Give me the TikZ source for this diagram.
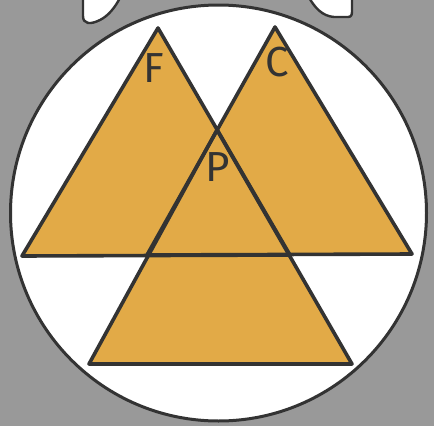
\documentclass[tikz,border=0pt]{standalone}
\usepackage{fontspec}
\setmainfont{Fira Sans}
\usepackage{xcolor}
\usetikzlibrary{calc}

\definecolor{slate}{HTML}{999999}
\definecolor{ink}{HTML}{333333}
\definecolor{ochre}{HTML}{E2AA47}

\begin{document}
\begin{tikzpicture}[x=1pt, y=-1pt, line join=round,
    tri/.style={fill=ochre},
    edge/.style={draw=ink, line width=3.6pt},
    letter/.style={text=ink, font=\fontsize{42}{44}\selectfont}]
            \useasboundingbox (0,0) rectangle (434,426);
            \fill[slate] (0,0) rectangle (434,426);
            \begin{scope}
                \clip (0,0) rectangle (434,426);
                % pieces of the shape above
                \draw[fill=white, draw=ink, line width=2.4pt] (83,-4) -- (83,16) .. controls (83,24) and (90,25) .. (100,20) .. controls (108,16) and (115,8) .. (121,-4) -- cycle;
                \draw[fill=white, draw=ink, line width=2.4pt] (308,-4) .. controls (315,8) and (322,16) .. (334,17) -- (348,17) .. controls (352,17) and (352,14) .. (352,10) -- (352,-4) -- cycle;
            \end{scope}
            \draw[fill=white, draw=ink, line width=3pt] (218.5,213) circle (208);
            % triangle corners
            \coordinate (F1) at (158,28);
            \coordinate (F2) at (22,256);
            \coordinate (F3) at (290,255);
            \coordinate (C1) at (275,27);
            \coordinate (C2) at (147,255);
            \coordinate (C3) at (412,254);
            \coordinate (P1) at (217,130);
            \coordinate (P2) at (89,364);
            \coordinate (P3) at (352,364);
            \fill[tri] (F1) -- (F2) -- (F3) -- cycle;
            \fill[tri] (C1) -- (C2) -- (C3) -- cycle;
            \fill[tri] (P1) -- (P2) -- (P3) -- cycle;
            \draw[edge] (F1) -- (F2) -- (F3) -- cycle;
            \draw[edge] (C1) -- (C2) -- (C3) -- cycle;
            \draw[edge] (P1) -- (P2) -- (P3) -- cycle;
            \node[letter] (fire) at (154,68) {F};
            \node[letter] (cold) at (277,62) {C};
            \node[letter] (pole) at (218,167) {P};
        \end{tikzpicture}
\end{document}
